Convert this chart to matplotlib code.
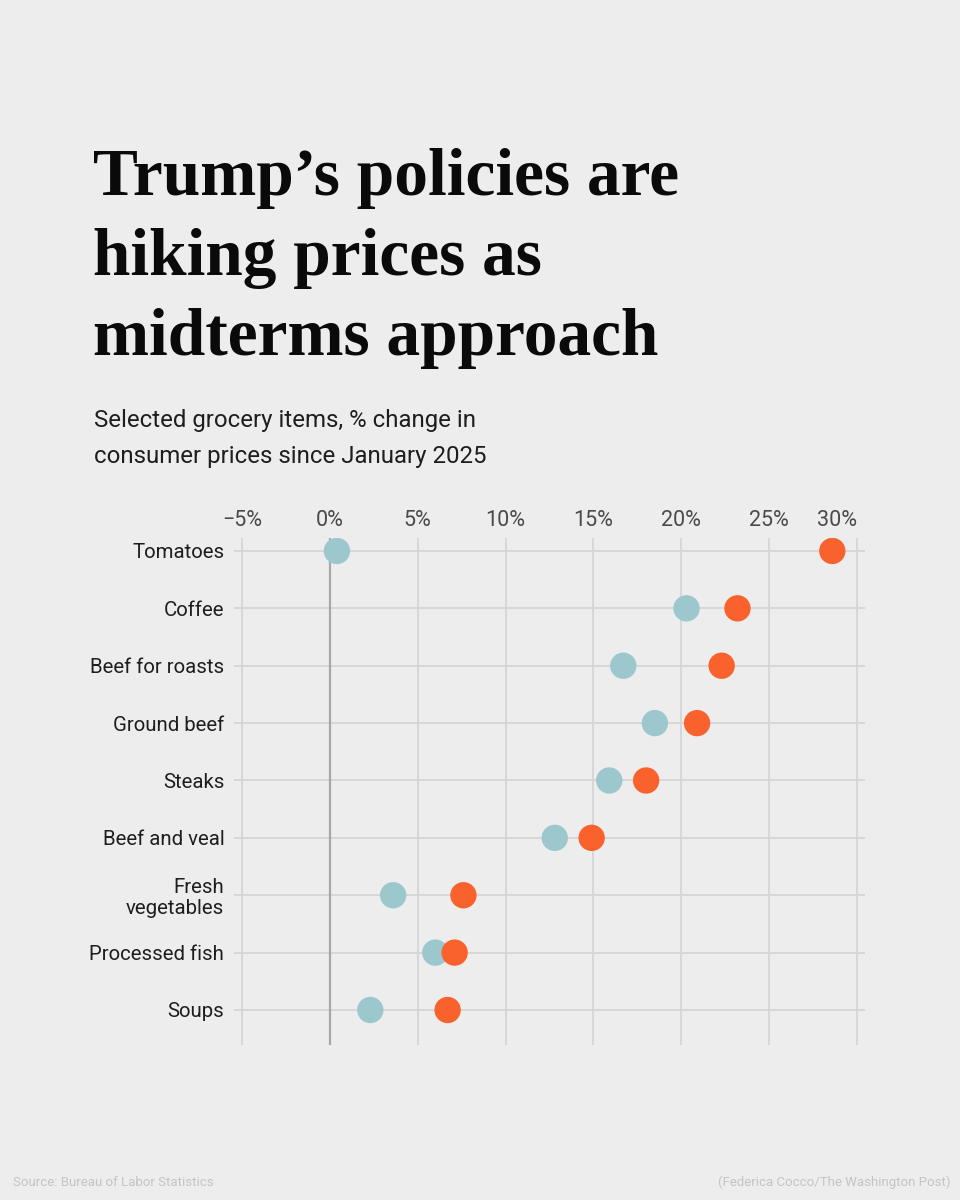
import matplotlib
matplotlib.use("Agg")
import matplotlib.pyplot as plt

# data (% change in consumer prices since Jan 2025)
categories = [
    "Tomatoes",
    "Coffee",
    "Beef for roasts",
    "Ground beef",
    "Steaks",
    "Beef and veal",
    "Fresh\nvegetables",
    "Processed fish",
    "Soups",
]
blue_vals = [0.4, 20.3, 16.7, 18.5, 15.9, 12.8, 3.6, 6.0, 2.3]
orange_vals = [28.6, 23.2, 22.3, 20.9, 18.0, 14.9, 7.6, 7.1, 6.7]
tick_vals = [-5, 0, 5, 10, 15, 20, 25, 30]
tick_labels = ["\u22125%", "0%", "5%", "10%", "15%", "20%", "25%", "30%"]

BG = "#ededed"
BLUE = "#9cc7cd"
ORANGE = "#f9612d"
GRID = "#d5d5d5"
SANS = "Roboto"

W, H = 960, 1200
fig = plt.figure(figsize=(W / 100, H / 100), dpi=100, facecolor=BG)

# headline + subtitle
title = "Trump\u2019s policies are\nhiking prices as\nmidterms approach"
for i, line in enumerate(title.split("\n")):
    fig.text(93 / W, 1 - (195 + 80 * i) / H, line, fontsize=48.5,
             fontfamily="Liberation Serif", fontweight="bold",
             ha="left", va="baseline", color="#0a0a0a")
fig.text(94 / W, 1 - 427 / H, "Selected grocery items, % change in",
         fontsize=17.3, fontfamily=SANS, color="#1e1e1e", va="baseline")
fig.text(94 / W, 1 - 463 / H, "consumer prices since January 2025",
         fontsize=17.3, fontfamily=SANS, color="#1e1e1e", va="baseline")

# plot area (pixels: x 234..865, y 538..1045)
ax = fig.add_axes([234 / W, 1 - 1045 / H, 631 / W, 507 / H])
ax.set_facecolor(BG)
ypos = list(range(len(categories)))

ax.set_xlim(-5.46, 30.46)
ax.set_ylim(len(categories) - 1 + 0.61, -0.226)
for sp in ax.spines.values():
    sp.set_visible(False)

for y in ypos:
    ax.axhline(y, color=GRID, lw=1.3, zorder=0)
for t in tick_vals:
    ax.axvline(t, color="#a8a8a8" if t == 0 else GRID,
               lw=1.6 if t == 0 else 1.3, zorder=0)

ax.scatter(blue_vals, ypos, s=360, color=BLUE, edgecolors="none", zorder=3)
ax.scatter(orange_vals, ypos, s=360, color=ORANGE, edgecolors="none", zorder=4)

ax.xaxis.tick_top()
ax.set_xticks(tick_vals)
ax.set_xticklabels(tick_labels, fontsize=15.5, fontfamily=SANS, color="#4a4a4a")
ax.get_xticklabels()[-1].set_horizontalalignment("right")
ax.tick_params(axis="x", length=0, pad=5)
ax.set_yticks(ypos)
ax.set_yticklabels(categories, fontsize=14.7, fontfamily=SANS, color="#1e1e1e",
                   linespacing=1.1)
ax.tick_params(axis="y", length=0, pad=7)

# footer
fig.text(13 / W, 1 - 1182 / H, "Source: Bureau of Labor Statistics",
         fontsize=9.5, fontfamily=SANS, color="#c4c4c4", va="center")
fig.text(1 - 10 / W, 1 - 1182 / H, "(Federica Cocco/The Washington Post)",
         fontsize=9.5, fontfamily=SANS, color="#c4c4c4", va="center", ha="right")

fig.savefig("out.png", dpi=100, facecolor=BG)
